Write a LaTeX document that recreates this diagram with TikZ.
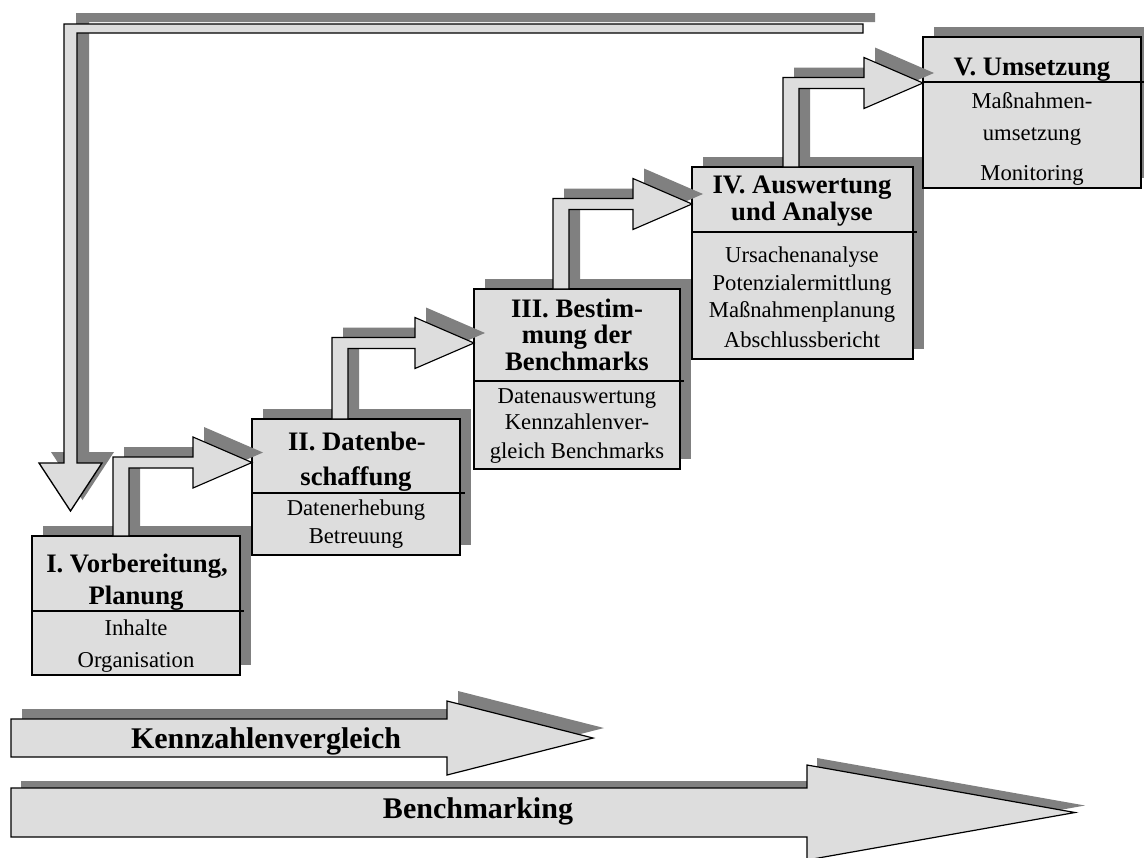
\documentclass[tikz,border=0pt]{standalone}
\usepackage{fontspec}
\setmainfont{Liberation Serif}
\usetikzlibrary{calc,fit}

\definecolor{panelgray}{HTML}{DDDDDD}
\definecolor{shadowgray}{HTML}{808080}

\tikzset{
  shadowc/.style={fill=shadowgray, draw=none},
  panel/.style={draw=black, line width=1.1pt, fill=panelgray, inner sep=0pt, outer sep=0pt},
  divider/.style={draw=black, line width=1.1pt},
  blockarrow/.style={draw=black, line width=0.85pt, fill=panelgray, line join=miter},
  headtxt/.style={font=\fontsize{20}{24}\selectfont\bfseries, anchor=base, inner sep=0pt},
  bodytxt/.style={font=\fontsize{17}{20}\selectfont, anchor=base, inner sep=0pt},
  bandtxt/.style={font=\fontsize{22.5}{27}\selectfont\bfseries, anchor=base, inner sep=0pt},
}

% bent block arrow: #1 style, #2 left foot of the stem, #3 tip
\newcommand\bentarrow[3]{%
  \path[#1] (#2) -- ($(#2 |- #3)+(0,-5.5)$) -- ($(#3)+(-59,-5.5)$)
    -- ($(#3)+(-59,-25.5)$) -- (#3) -- ($(#3)+(-59,25.5)$)
    -- ($(#3)+(-59,5.5)$) -- ($(#2 |- #3)+(16,5.5)$) -- ($(#2)+(16,0)$) -- cycle;}

\begin{document}
\begin{tikzpicture}[x=0.75pt, y=-0.75pt]
\useasboundingbox (0,0) rectangle (1144,857);
\fill[white] (0,0) rectangle (1144,857);

% corners of the five stage boxes
\coordinate (b1nw) at (32,536);  \coordinate (b1se) at (240,675);
\coordinate (b2nw) at (252,419); \coordinate (b2se) at (460,555);
\coordinate (b3nw) at (474,289); \coordinate (b3se) at (680,469);
\coordinate (b4nw) at (692,167); \coordinate (b4se) at (913,359);
\coordinate (b5nw) at (923,37);  \coordinate (b5se) at (1141,188);

% feedback arrow from the top back to stage I
\fill[shadowc, shift={(12,-11)}] (64,24) -- (863,24) -- (863,33) -- (77,33)
  -- (77,463) -- (102,463) -- (70.5,511) -- (39,463) -- (64,463) -- cycle;
\draw[blockarrow, line width=1pt] (64,24) -- (863,24) -- (863,33) -- (77,33)
  -- (77,463) -- (102,463) -- (70.5,511) -- (39,463) -- (64,463) -- cycle;

% box shadows
\foreach \i in {1,...,5}
  \fill[shadowc] ($(b\i nw)+(11,-10)$) rectangle ($(b\i se)+(11,-10)$);

% stage boxes
\foreach \i in {1,...,5}
  \node[panel, fit=(b\i nw)(b\i se)] (b\i) {};

% dividers between title and content
\draw[divider] (32,611) -- (244,611);
\draw[divider] (252,493) -- (465,493);
\draw[divider] (474,381) -- (684,381);
\draw[divider] (692,232) -- (917,232);
\draw[divider] (923,82) -- (1144,82);

% stage I
\node[headtxt] (h1a) at (137,572) {I. Vorbereitung,};
\node[headtxt] (h1b) at (136,604) {Planung};
\node[bodytxt] (t1a) at (136,635) {Inhalte};
\node[bodytxt] (t1b) at (136,667) {Organisation};

% stage II
\node[headtxt] (h2a) at (357,450) {II. Datenbe-};
\node[headtxt] (h2b) at (356,485) {schaffung};
\node[bodytxt] (t2a) at (356,515) {Datenerhebung};
\node[bodytxt] (t2b) at (356,543) {Betreuung};

% stage III
\node[headtxt] (h3a) at (577,317) {III. Bestim-};
\node[headtxt] (h3b) at (577,343) {mung der};
\node[headtxt] (h3c) at (577,370) {Benchmarks};
\node[bodytxt] (t3a) at (577,403) {Datenauswertung};
\node[bodytxt] (t3b) at (577,429) {Kennzahlenver-};
\node[bodytxt] (t3c) at (577,458) {gleich Benchmarks};

% stage IV
\node[headtxt] (h4a) at (802,193) {IV. Auswertung};
\node[headtxt] (h4b) at (802,220) {und Analyse};
\node[bodytxt] (t4a) at (802,262) {Ursachenanalyse};
\node[bodytxt] (t4b) at (802,290) {Potenzialermittlung};
\node[bodytxt] (t4c) at (802,317) {Maßnahmenplanung};
\node[bodytxt] (t4d) at (802,347) {Abschlussbericht};

% stage V
\node[headtxt] (h5a) at (1032,75) {V. Umsetzung};
\node[bodytxt] (t5a) at (1032,108) {Maßnahmen-};
\node[bodytxt] (t5b) at (1032,140) {umsetzung};
\node[bodytxt] (t5c) at (1032,180) {Monitoring};

% stem feet and tips of the step arrows
\coordinate (s12) at ($(b1.north west)+(81,0)$);
\coordinate (t12) at ($(b2.north west)+(0,43.5)$);
\coordinate (s23) at ($(b2.north west)+(80,0)$);
\coordinate (t23) at ($(b3.north west)+(0,54)$);
\coordinate (s34) at ($(b3.north west)+(79,0)$);
\coordinate (t34) at ($(b4.north west)+(0,37)$);
\coordinate (s45) at ($(b4.north west)+(91,0)$);
\coordinate (t45) at ($(b5.north west)+(0,46)$);

\begin{scope}[transform canvas={shift={(11,-10)}}]
  \bentarrow{shadowc}{s12}{t12}
  \bentarrow{shadowc}{s23}{t23}
  \bentarrow{shadowc}{s34}{t34}
  \bentarrow{shadowc}{s45}{t45}
\end{scope}
\bentarrow{blockarrow}{s12}{t12}
\bentarrow{blockarrow}{s23}{t23}
\bentarrow{blockarrow}{s34}{t34}
\bentarrow{blockarrow}{s45}{t45}

% scope bands
\fill[shadowc, shift={(11,-10)}] (11,719) -- (447,719) -- (447,701) -- (593,738)
  -- (447,775) -- (447,757) -- (11,757) -- cycle;
\draw[blockarrow, line width=0.9pt] (11,719) -- (447,719) -- (447,701) -- (593,738)
  -- (447,775) -- (447,757) -- (11,757) -- cycle;
\node[bandtxt] (kv) at (266,748) {Kennzahlenvergleich};

\fill[shadowc, shift={(10,-7)}] (11,788) -- (807,788) -- (807,765) -- (1075,812.5)
  -- (807,860) -- (807,837) -- (11,837) -- cycle;
\draw[blockarrow, line width=0.9pt] (11,788) -- (807,788) -- (807,765) -- (1075,812.5)
  -- (807,860) -- (807,837) -- (11,837) -- cycle;
\node[bandtxt] (bm) at (478,818) {Benchmarking};
\end{tikzpicture}
\end{document}
